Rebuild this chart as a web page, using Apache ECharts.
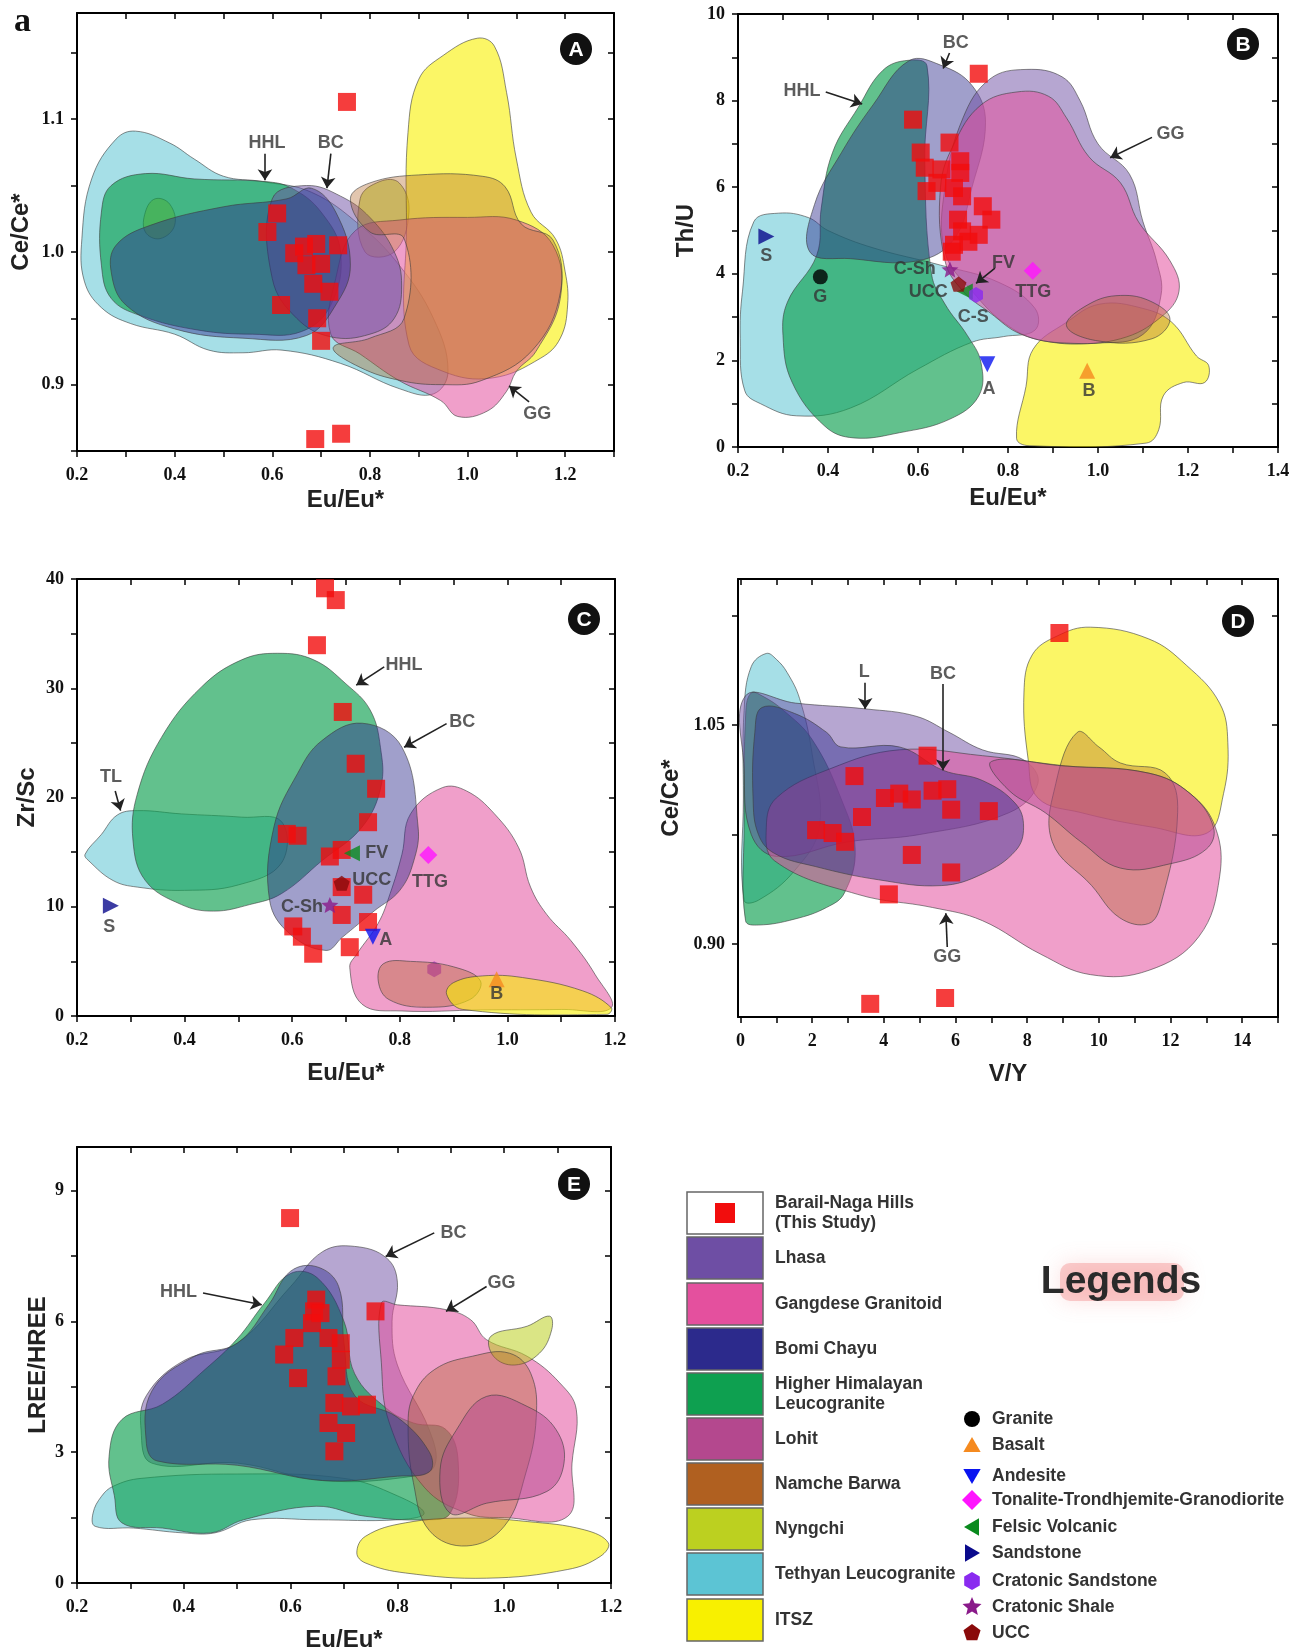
<!DOCTYPE html>
<html><head><meta charset="utf-8">
<script src="https://cdn.jsdelivr.net/npm/echarts@6/dist/echarts.min.js"></script>
<style>html,body{margin:0;padding:0;background:#fff}#c{width:1298px;height:1652px}</style>
</head><body><div id="c"></div>
<script>
// ================= DATA =================
const fieldKeys   = ['LH','GG','BC','HHL','LO','NB','NY','TL','IT'];
const fieldNames  = ['Lhasa','Gangdese Granitoid','Bomi Chayu','Higher Himalayan\nLeucogranite','Lohit','Namche Barwa','Nyngchi','Tethyan Leucogranite','ITSZ'];
const fieldColors = ['#6e4ea4','#e4509e','#2c2a8c','#0ea050','#b4488e','#b06020','#bcd020','#5cc4d4','#f8f000'];
const fieldAlpha  = [0.5,0.55,0.45,0.65,0.5,0.36,0.55,0.55,0.6];

const refKeys   = ['G','B','A','TTG','FV','S','CS','CSh','UCC'];
const refNames  = ['Granite','Basalt','Andesite','Tonalite-Trondhjemite-Granodiorite','Felsic Volcanic','Sandstone','Cratonic Sandstone','Cratonic Shale','UCC'];
const refColors = ['#000000','#f58a1f','#0a14f0','#ff14ff','#0a8a1e','#0a0a8c','#8a2af0','#8a1a8a','#8a0a0a'];

// ---- Panel A: Eu/Eu* vs Ce/Ce*
const A_pts = [[0.753,1.113],[0.61,1.029],[0.59,1.015],[0.645,0.999],[0.665,1.004],[0.69,1.006],[0.735,1.005],[0.67,0.99],[0.7,0.991],[0.684,0.976],[0.717,0.97],[0.618,0.96],[0.692,0.95],[0.7,0.933],[0.688,0.859],[0.741,0.863]];
const A_TL = [[0.21,1.01],[0.23,1.055],[0.28,1.085],[0.32,1.091],[0.39,1.082],[0.44,1.07],[0.5,1.057],[0.58,1.053],[0.68,1.045],[0.78,1.02],[0.86,0.99],[0.93,0.95],[0.96,0.91],[0.93,0.893],[0.86,0.897],[0.74,0.916],[0.62,0.926],[0.54,0.924],[0.47,0.926],[0.4,0.938],[0.31,0.946],[0.25,0.958],[0.215,0.978]];
const A_HHL = [[0.25,1.03],[0.27,1.05],[0.34,1.059],[0.44,1.055],[0.585,1.053],[0.64,1.048],[0.7,1.03],[0.74,1.0],[0.72,0.96],[0.66,0.94],[0.56,0.938],[0.45,0.941],[0.33,0.952],[0.27,0.965],[0.25,0.99]];
const A_NY1 = [[0.34,1.03],[0.36,1.04],[0.39,1.036],[0.4,1.02],[0.37,1.01],[0.34,1.015]];
const A_NY2 = [[0.78,1.04],[0.82,1.053],[0.86,1.052],[0.88,1.03],[0.85,1.0],[0.79,1.0]];
const A_IT = [[0.875,1.02],[0.878,1.09],[0.9,1.13],[0.95,1.148],[1.02,1.161],[1.055,1.155],[1.08,1.12],[1.1,1.07],[1.13,1.03],[1.18,1.01],[1.2,0.985],[1.205,0.96],[1.19,0.935],[1.15,0.92],[1.05,0.905],[0.95,0.91],[0.88,0.93]];
const A_GG = [[0.77,1.016],[0.86,1.024],[1.0,1.026],[1.1,1.024],[1.175,1.005],[1.19,0.965],[1.14,0.925],[1.1,0.91],[1.08,0.895],[1.04,0.88],[0.98,0.876],[0.945,0.888],[0.86,0.903],[0.78,0.923],[0.72,0.938],[0.73,0.98]];
const A_LH = [[0.6,1.04],[0.67,1.05],[0.74,1.042],[0.8,1.026],[0.85,1.0],[0.865,0.975],[0.85,0.95],[0.8,0.938],[0.72,0.936],[0.65,0.95],[0.6,0.98]];
const A_BC = [[0.28,1.005],[0.35,1.02],[0.5,1.034],[0.63,1.04],[0.68,1.048],[0.73,1.03],[0.76,0.99],[0.73,0.96],[0.67,0.937],[0.54,0.935],[0.4,0.942],[0.3,0.96],[0.27,0.985]];
const A_NB = [[0.76,1.04],[0.8,1.052],[0.9,1.058],[1.03,1.057],[1.077,1.049],[1.11,1.021],[1.175,1.009],[1.19,0.969],[1.133,0.926],[1.028,0.903],[0.946,0.9],[0.864,0.903],[0.78,0.913],[0.725,0.928],[0.8,0.935],[0.87,0.95],[0.87,1.01],[0.8,1.015]];
const A_notes = [['HHL',0.589,1.082],['BC',0.72,1.082],['GG',1.143,0.878]];
const A_arrows = [[0.585,1.074,0.585,1.054],[0.72,1.074,0.712,1.048],[1.126,0.887,1.085,0.899]];
const A_xTicks = range(0.2,1.3,0.1), A_xLabels = range(0.2,1.2,0.2);
const A_yTicks = range(0.85,1.15,0.05), A_yLabels = [0.9,1.0,1.1];

// ---- Panel B: Eu/Eu* vs Th/U
const B_pts = [[0.735,8.62],[0.589,7.56],[0.67,7.03],[0.606,6.8],[0.694,6.6],[0.615,6.45],[0.652,6.41],[0.694,6.33],[0.643,6.1],[0.619,5.91],[0.68,5.98],[0.698,5.79],[0.744,5.56],[0.689,5.25],[0.763,5.25],[0.698,4.98],[0.735,4.9],[0.68,4.67],[0.712,4.74],[0.675,4.51]];
const B_TL = [[0.215,1.3],[0.205,2.5],[0.21,3.6],[0.235,5.2],[0.29,5.4],[0.356,5.3],[0.4,5.0],[0.5,4.6],[0.65,4.2],[0.78,3.8],[0.86,3.2],[0.86,2.7],[0.79,2.55],[0.72,2.42],[0.6,1.8],[0.45,0.9],[0.33,0.72],[0.25,1.0]];
const B_HHL = [[0.578,8.93],[0.522,8.7],[0.467,7.84],[0.41,6.8],[0.385,5.52],[0.375,4.43],[0.31,3.35],[0.3,2.57],[0.32,1.5],[0.393,0.48],[0.457,0.21],[0.559,0.33],[0.67,0.64],[0.735,1.18],[0.74,1.95],[0.71,2.57],[0.66,3.3],[0.63,4.0],[0.615,6.6],[0.62,8.8]];
const B_IT = [[0.819,0.2],[0.84,1.4],[0.856,2.26],[0.93,2.88],[1.004,3.3],[1.1,3.2],[1.164,2.88],[1.219,2.1],[1.246,1.88],[1.237,1.49],[1.19,1.49],[1.145,1.18],[1.135,0.4],[1.107,0.09],[0.847,0.03]];
const B_BC = [[0.36,4.5],[0.37,5.6],[0.43,6.8],[0.5,7.9],[0.58,8.92],[0.65,8.82],[0.72,8.35],[0.75,7.5],[0.72,6.0],[0.68,4.8],[0.6,4.3],[0.45,4.35]];
const B_LH = [[0.66,6.0],[0.7,7.6],[0.76,8.5],[0.84,8.72],[0.92,8.55],[0.96,8.0],[1.0,7.0],[1.07,6.3],[1.1,5.2],[1.13,4.3],[1.14,3.5],[1.1,2.6],[1.0,2.4],[0.88,2.45],[0.8,2.8],[0.72,3.6],[0.66,4.5]];
const B_GG = [[0.65,6.0],[0.68,7.0],[0.74,7.9],[0.82,8.2],[0.89,8.1],[0.93,7.6],[0.98,6.7],[1.05,6.1],[1.09,5.2],[1.16,4.3],[1.18,3.6],[1.14,3.0],[1.05,2.5],[0.93,2.4],[0.83,2.6],[0.76,3.1],[0.7,3.6],[0.66,4.3]];
const B_NB = [[0.93,2.8],[0.98,3.3],[1.05,3.5],[1.12,3.35],[1.16,2.95],[1.12,2.5],[1.0,2.45]];
const B_ref = {G:[0.383,3.93],S:[0.263,4.86],A:[0.754,1.91],B:[0.976,1.76],TTG:[0.855,4.07],FV:[0.704,3.59],CS:[0.729,3.51],CSh:[0.671,4.1],UCC:[0.69,3.76]};
const B_notes = [['BC',0.684,9.32],['HHL',0.342,8.23],['GG',1.161,7.22],['S',0.263,4.4],['G',0.383,3.47],['A',0.758,1.33],['B',0.98,1.29],['TTG',0.856,3.59],['C-Sh',0.593,4.1],['UCC',0.623,3.59],['C-S',0.723,3.0],['FV',0.79,4.24]];
const B_arrows = [[0.67,9.1,0.656,8.74],[0.395,8.2,0.476,7.92],[1.12,7.15,1.027,6.68],[0.771,4.13,0.729,3.78]];
const B_xTicks = range(0.2,1.4,0.1), B_xLabels = range(0.2,1.4,0.2);
const B_yTicks = range(0,10,1), B_yLabels = range(0,10,2);

// ---- Panel C: Eu/Eu* vs Zr/Sc
const C_pts = [[0.661,39.15],[0.681,38.07],[0.646,33.94],[0.694,27.83],[0.718,23.09],[0.756,20.8],[0.741,17.74],[0.59,16.67],[0.61,16.5],[0.692,15.2],[0.67,14.6],[0.692,11.8],[0.732,11.1],[0.692,9.25],[0.741,8.6],[0.602,8.2],[0.618,7.26],[0.639,5.7],[0.707,6.3]];
const C_TL = [[0.215,14.8],[0.245,16.6],[0.275,18.4],[0.312,18.8],[0.394,18.5],[0.506,18.2],[0.58,17.8],[0.58,14],[0.5,12],[0.4,11.5],[0.312,11.8],[0.267,12.4],[0.222,14.2]];
const C_HHL = [[0.573,33.2],[0.506,32.6],[0.431,30.1],[0.357,25.5],[0.312,20.3],[0.304,16.1],[0.327,12.4],[0.394,10.2],[0.454,9.6],[0.521,10.2],[0.58,11.2],[0.655,14.2],[0.73,17.3],[0.765,21],[0.764,24.6],[0.745,28],[0.7,30.4],[0.64,32.6]];
const C_GG = [[0.879,20.9],[0.924,20.6],[0.976,18.5],[1.021,15.4],[1.043,11.8],[1.073,9.3],[1.118,6.9],[1.163,3.8],[1.193,0.76],[1.1,0.6],[0.95,0.55],[0.804,0.46],[0.73,1.07],[0.707,4.43],[0.72,5.66],[0.76,8.5],[0.782,11.2],[0.804,14.8],[0.82,18.5]];
const C_NB = [[0.77,4.8],[0.82,5.0],[0.9,4.5],[0.95,3.2],[0.93,1.5],[0.85,0.8],[0.78,1.5],[0.76,3.2]];
const C_IT = [[0.887,2.0],[0.9,3.06],[0.954,3.67],[1.028,3.52],[1.14,2.3],[1.193,0.76],[1.185,0.15],[0.917,0.6]];
const C_BC = [[0.73,26.8],[0.804,24.6],[0.834,17.3],[0.826,14.2],[0.8,11.5],[0.752,9.6],[0.693,7.2],[0.663,6.0],[0.596,7.5],[0.558,10.6],[0.566,17.3],[0.61,22.2],[0.655,25.2]];
const C_ref = {S:[0.263,10.1],A:[0.75,7.26],B:[0.98,3.36],TTG:[0.853,14.74],FV:[0.711,14.9],CS:[0.864,4.28],CSh:[0.67,10.16],UCC:[0.692,12.15]};
const C_notes = [['HHL',0.808,32.1],['BC',0.916,26.9],['TL',0.263,21.9],['S',0.26,8.1],['FV',0.757,14.9],['UCC',0.748,12.45],['C-Sh',0.618,10.0],['TTG',0.856,12.3],['A',0.774,6.96],['B',0.98,1.99]];
const C_arrows = [[0.771,31.96,0.719,30.28],[0.887,26.76,0.808,24.6],[0.271,20.6,0.281,18.8]];
const C_xTicks = range(0.2,1.2,0.1), C_xLabels = range(0.2,1.2,0.2);
const C_yTicks = range(0,40,5), C_yLabels = range(0,40,10);

// ---- Panel D: V/Y vs Ce/Ce*
const D_pts = [[8.9,1.113],[5.22,1.029],[3.18,1.015],[4.03,1.0],[4.43,1.003],[4.78,0.999],[5.36,1.005],[5.77,1.006],[5.88,0.992],[6.93,0.991],[3.39,0.987],[2.11,0.978],[2.57,0.976],[2.92,0.97],[4.78,0.961],[5.88,0.949],[4.14,0.934],[3.62,0.859],[5.71,0.863]];
const D_TL = [[0.1,0.93],[0.08,1.0],[0.1,1.06],[0.3,1.09],[0.72,1.099],[1.0,1.095],[1.3,1.086],[1.65,1.068],[2.0,1.03],[2.2,0.98],[1.5,0.95],[0.5,0.93]];
const D_HHL = [[0.14,0.916],[0.1,0.98],[0.15,1.06],[0.3,1.072],[0.6,1.07],[1.2,1.06],[2.0,1.04],[2.8,1.0],[3.2,0.965],[2.9,0.935],[2.4,0.925],[1.5,0.917],[0.5,0.913]];
const D_LH = [[0.14,1.07],[1.53,1.065],[3.5,1.061],[4.9,1.056],[5.82,1.045],[6.75,1.033],[7.91,1.026],[8.3,1.01],[7.5,0.99],[5.0,0.975],[3.0,0.97],[1.0,0.96],[0.3,0.975],[0.1,1.02]];
const D_IT = [[8.03,1.026],[7.91,1.072],[8.14,1.098],[8.84,1.111],[9.77,1.117],[11.39,1.109],[12.44,1.091],[13.37,1.065],[13.6,1.038],[13.48,1.003],[13.02,0.976],[11.5,0.98],[9.5,0.99],[8.3,1.0]];
const D_GG = [[0.72,0.98],[0.95,0.957],[3.27,0.934],[5.36,0.925],[6.75,0.916],[8.38,0.893],[9.77,0.879],[11.4,0.882],[12.79,0.905],[13.37,0.946],[13.25,0.98],[12.55,1.003],[11.4,1.017],[9.07,1.022],[6.75,1.029],[4.43,1.033],[2.5,1.02],[1.0,1.0]];
const D_NB = [[8.7,0.97],[8.8,1.01],[9.4,1.045],[10.0,1.035],[10.6,1.024],[11.86,1.017],[12.2,0.99],[11.74,0.928],[11.39,0.914],[10.58,0.918],[9.8,0.94]];
const D_LO = [[7.0,1.025],[9.0,1.022],[11.4,1.017],[12.55,1.003],[13.2,0.98],[13.0,0.965],[12.0,0.955],[10.6,0.952],[9.5,0.97],[8.5,0.99],[7.5,1.005]];
const D_BC = [[0.35,1.0],[0.4,1.045],[0.6,1.062],[1.5,1.058],[2.4,1.045],[2.8,1.035],[4.43,1.035],[5.65,1.019],[6.75,1.012],[7.68,0.996],[7.9,0.98],[7.68,0.964],[6.75,0.948],[5.6,0.94],[3.85,0.944],[2.1,0.953],[0.95,0.962],[0.5,0.975]];
const D_notes = [['L',3.45,1.086],['BC',5.65,1.085],['GG',5.77,0.891]];
const D_arrows = [[3.48,1.079,3.48,1.061],[5.65,1.078,5.65,1.019],[5.77,0.898,5.73,0.921]];
const D_xTicks = range(0,15,1), D_xLabels = range(0,14,2);
const D_yTicks = [0.9,0.975,1.05,1.125], D_yLabels = [0.9,1.05];

// ---- Panel E: Eu/Eu* vs LREE/HREE
const E_pts = [[0.599,8.37],[0.648,6.5],[0.644,6.23],[0.64,5.96],[0.759,6.23],[0.607,5.62],[0.588,5.24],[0.614,4.7],[0.671,5.62],[0.694,5.5],[0.694,5.12],[0.686,4.74],[0.682,4.13],[0.713,4.05],[0.743,4.09],[0.671,3.67],[0.704,3.44],[0.682,3.02],[0.656,6.19]];
const E_TL = [[0.234,1.3],[0.23,1.6],[0.246,1.99],[0.268,2.22],[0.32,2.4],[0.5,2.5],[0.7,2.4],[0.8,2.0],[0.85,1.6],[0.8,1.45],[0.65,1.45],[0.527,1.45],[0.458,1.15],[0.398,1.15],[0.306,1.26]];
const E_HHL = [[0.26,2.9],[0.284,3.75],[0.36,4.1],[0.44,4.9],[0.5,5.6],[0.55,6.4],[0.6,7.1],[0.65,7.0],[0.7,6.0],[0.72,4.8],[0.78,4.0],[0.83,3.67],[0.891,3.52],[0.914,2.75],[0.899,1.6],[0.853,1.45],[0.74,1.53],[0.648,1.76],[0.512,1.45],[0.45,1.15],[0.36,1.26],[0.284,1.38],[0.27,2.0]];
const E_IT = [[0.724,0.69],[0.74,1.07],[0.815,1.38],[0.93,1.49],[1.043,1.41],[1.15,1.22],[1.195,0.92],[1.18,0.61],[1.119,0.31],[0.967,0.11],[0.815,0.23],[0.74,0.46]];
const E_GG = [[0.77,6.42],[0.8,6.38],[0.891,6.27],[0.937,6.04],[0.967,5.58],[1.043,5.2],[1.104,4.59],[1.135,3.98],[1.127,2.75],[1.119,1.53],[1.0,1.5],[0.93,1.6],[0.85,2.2],[0.785,3.67],[0.77,5.05]];
const E_NY = [[0.975,5.66],[1.043,5.89],[1.085,6.12],[1.089,5.81],[1.066,5.27],[1.02,5.0],[0.98,5.2]];
const E_NB = [[0.82,3.6],[0.83,4.3],[0.87,4.9],[0.94,5.2],[1.01,5.27],[1.05,4.8],[1.06,3.8],[1.04,2.5],[1.0,1.3],[0.93,0.85],[0.86,1.2],[0.83,2.3]];
const E_LO = [[0.91,3.5],[0.967,4.28],[1.043,4.05],[1.097,3.52],[1.112,2.75],[1.08,2.1],[0.967,1.83],[0.899,1.6],[0.88,2.6]];
const E_LH = [[0.33,4.3],[0.4,5.1],[0.5,5.5],[0.6,6.8],[0.66,7.6],[0.72,7.72],[0.78,7.45],[0.8,6.9],[0.79,6.0],[0.8,5.0],[0.86,3.5],[0.87,2.7],[0.83,2.45],[0.66,2.35],[0.5,2.75],[0.34,2.75],[0.32,3.5]];
const E_BC = [[0.33,3.2],[0.34,4.4],[0.42,5.2],[0.5,5.5],[0.56,6.4],[0.6,7.15],[0.65,7.25],[0.69,6.8],[0.7,5.5],[0.72,4.3],[0.8,3.8],[0.86,3.0],[0.86,2.55],[0.8,2.45],[0.66,2.35],[0.5,2.7],[0.35,2.8]];
const E_notes = [['HHL',0.39,6.67],['BC',0.905,8.03],['GG',0.995,6.88]];
const E_arrows = [[0.436,6.65,0.546,6.38],[0.869,8.03,0.778,7.49],[0.967,6.8,0.891,6.23]];
const E_xTicks = range(0.2,1.2,0.1), E_xLabels = range(0.2,1.2,0.2);
const E_yTicks = range(0,9,1.5), E_yLabels = [0,3,6,9];

// ================= HELPERS =================
function range(a,b,s){const r=[];for(let i=0;a+i*s<=b+1e-9;i++) r.push(Math.round((a+i*s)*1000)/1000);return r;}
function rgba(hex,a){const n=parseInt(hex.slice(1),16);return 'rgba('+(n>>16)+','+((n>>8)&255)+','+(n&255)+','+a+')';}
function regPts(cx,cy,r,n,start,inner){const p=[];const m=inner?n*2:n;for(let i=0;i<m;i++){const ang=(start+i*360/m)*Math.PI/180;const rr=(inner&&i%2)?r*inner:r;p.push([cx+rr*Math.cos(ang),cy+rr*Math.sin(ang)]);}return p;}
function pathOf(pts){return 'path://M'+pts.map(p=>p[0].toFixed(2)+' '+p[1].toFixed(2)).join(' L')+' Z';}
const refSym = {
  G:{symbol:'circle',rot:0,size:15},
  B:{symbol:'triangle',rot:0,size:16},
  A:{symbol:'triangle',rot:180,size:16},
  TTG:{symbol:'diamond',rot:0,size:18},
  FV:{symbol:'triangle',rot:90,size:16},
  S:{symbol:'triangle',rot:-90,size:16},
  CS:{symbol:pathOf(regPts(10,10,10,6,-90)),rot:0,size:16},
  CSh:{symbol:pathOf(regPts(10,10,10,5,-90,0.45)),rot:0,size:17},
  UCC:{symbol:pathOf(regPts(10,10,10,5,-90)),rot:0,size:16}
};
const SANS='Liberation Sans, Arial, sans-serif', SERIF='Liberation Serif, Times New Roman, serif';

const grids = [
  {left:77, top:13, width:537, height:438},
  {left:738, top:14, width:540, height:433},
  {left:77, top:579, width:538, height:437},
  {left:738, top:579, width:540, height:438},
  {left:77, top:1147, width:534, height:436}
];
const axCfg = [
  {xmin:0.2,xmax:1.3,ymin:0.85,ymax:1.18,xt:A_xTicks,xl:A_xLabels,yt:A_yTicks,yl:A_yLabels,xd:1,yd:1,xn:'Eu/Eu*',yn:'Ce/Ce*',xg:37,yg:44},
  {xmin:0.2,xmax:1.4,ymin:0,ymax:10,xt:B_xTicks,xl:B_xLabels,yt:B_yTicks,yl:B_yLabels,xd:1,yd:0,xn:'Eu/Eu*',yn:'Th/U',xg:39,yg:40},
  {xmin:0.2,xmax:1.2,ymin:0,ymax:40,xt:C_xTicks,xl:C_xLabels,yt:C_yTicks,yl:C_yLabels,xd:1,yd:0,xn:'Eu/Eu*',yn:'Zr/Sc',xg:45,yg:38},
  {xmin:-0.07,xmax:15,ymin:0.85,ymax:1.15,xt:D_xTicks,xl:D_xLabels,yt:D_yTicks,yl:D_yLabels,xd:0,yd:2,xn:'V/Y',yn:'Ce/Ce*',xg:45,yg:55},
  {xmin:0.2,xmax:1.2,ymin:0,ymax:10,xt:E_xTicks,xl:E_xLabels,yt:E_yTicks,yl:E_yLabels,xd:1,yd:0,xn:'Eu/Eu*',yn:'LREE/HREE',xg:45,yg:27}
];
const panels = [
  {polys:[['TL',A_TL],['NY',A_NY1],['HHL',A_HHL],['NY',A_NY2],['IT',A_IT],['GG',A_GG],['LH',A_LH],['BC',A_BC],['NB',A_NB]],pts:A_pts,ref:null,notes:A_notes,arrows:A_arrows},
  {polys:[['TL',B_TL],['HHL',B_HHL],['IT',B_IT],['BC',B_BC],['LH',B_LH],['GG',B_GG],['NB',B_NB]],pts:B_pts,ref:B_ref,notes:B_notes,arrows:B_arrows},
  {polys:[['TL',C_TL],['HHL',C_HHL],['GG',C_GG],['NB',C_NB],['IT',C_IT],['BC',C_BC]],pts:C_pts,ref:C_ref,notes:C_notes,arrows:C_arrows},
  {polys:[['TL',D_TL],['HHL',D_HHL],['LH',D_LH],['IT',D_IT],['GG',D_GG],['NB',D_NB],['LO',D_LO],['BC',D_BC]],pts:D_pts,ref:null,notes:D_notes,arrows:D_arrows},
  {polys:[['TL',E_TL],['LH',E_LH],['HHL',E_HHL],['IT',E_IT],['GG',E_GG],['NY',E_NY],['NB',E_NB],['LO',E_LO],['BC',E_BC]],pts:E_pts,ref:null,notes:E_notes,arrows:E_arrows}
];

// ================= OPTION =================
const xAxis=[], yAxis=[], series=[];
const lineSt = {color:'#000', width:2};
axCfg.forEach((c,gi)=>{
  const lab = {fontFamily:SERIF, fontWeight:'bold', fontSize:18, color:'#111'};
  xAxis.push({type:'value',gridIndex:gi,min:c.xmin,max:c.xmax,position:'bottom',
    axisLine:{onZero:false,lineStyle:lineSt},
    axisTick:{customValues:c.xt,length:6,inside:false,lineStyle:{color:'#000',width:1.5}},
    axisLabel:Object.assign({customValues:c.xl,margin:15,formatter:v=>v.toFixed(c.xd),hideOverlap:false},lab),
    splitLine:{show:false},name:c.xn,nameLocation:'middle',nameGap:c.xg,
    nameTextStyle:{fontFamily:SANS,fontWeight:'bold',fontSize:24,color:'#222'}});
  xAxis.push({type:'value',gridIndex:gi,min:c.xmin,max:c.xmax,position:'top',
    axisLine:{onZero:false,lineStyle:lineSt},
    axisTick:{customValues:c.xt,length:6,inside:true,lineStyle:{color:'#000',width:1.5}},
    axisLabel:{show:false},splitLine:{show:false}});
  yAxis.push({type:'value',gridIndex:gi,min:c.ymin,max:c.ymax,position:'left',
    axisLine:{onZero:false,lineStyle:lineSt},
    axisTick:{customValues:c.yt,length:6,inside:false,lineStyle:{color:'#000',width:1.5}},
    axisLabel:Object.assign({customValues:c.yl,margin:13,formatter:v=>v.toFixed(c.yd),hideOverlap:false},lab),
    splitLine:{show:false},name:c.yn,nameLocation:'middle',nameGap:c.yg,nameRotate:90,
    nameTextStyle:{fontFamily:SANS,fontWeight:'bold',fontSize:24,color:'#222'}});
  yAxis.push({type:'value',gridIndex:gi,min:c.ymin,max:c.ymax,position:'right',
    axisLine:{onZero:false,lineStyle:lineSt},
    axisTick:{customValues:c.yt,length:6,inside:true,lineStyle:{color:'#000',width:1.5}},
    axisLabel:{show:false},splitLine:{show:false}});
});

panels.forEach((p,gi)=>{
  const xi=gi*2, yi=gi*2;
  p.polys.forEach(([key,pts])=>{
    const k=fieldKeys.indexOf(key), col=fieldColors[k], a=fieldAlpha[k];
    series.push({type:'custom',xAxisIndex:xi,yAxisIndex:yi,data:pts,encode:{x:0,y:1},clip:true,silent:true,z:2,
      renderItem:(params,api)=>{
        if(params.dataIndex!==0) return null;
        const pp = pts.map(d=>api.coord(d));
        return {type:'polygon',shape:{points:pp,smooth:0.4},
          style:{fill:rgba(col,a),stroke:'rgba(60,60,60,0.75)',lineWidth:0.8}};
      }});
  });
  series.push({type:'scatter',xAxisIndex:xi,yAxisIndex:yi,data:p.pts,symbol:'rect',symbolSize:18,
    itemStyle:{color:'#f20d0d'},z:5,silent:true});
  if(p.ref){
    Object.keys(p.ref).forEach(key=>{
      const k=refKeys.indexOf(key), s=refSym[key];
      series.push({type:'scatter',xAxisIndex:xi,yAxisIndex:yi,data:[p.ref[key]],symbol:s.symbol,symbolRotate:s.rot,
        symbolSize:s.size,symbolKeepAspect:true,itemStyle:{color:refColors[k]},
        z:(gi===2&&key==='CS')?1:6,silent:true});
    });
  }
  series.push({type:'scatter',xAxisIndex:xi,yAxisIndex:yi,z:7,silent:true,symbolSize:1,
    itemStyle:{color:'rgba(0,0,0,0)'},
    data:p.notes.map(n=>({value:[n[1],n[2]],name:n[0]})),
    label:{show:true,position:'inside',formatter:d=>d.name,fontFamily:SANS,fontWeight:'bold',fontSize:18,color:'#333'},
    markLine:{silent:true,symbol:['none','arrow'],symbolSize:11,animation:false,
      lineStyle:{color:'#222',width:1.6,type:'solid'},label:{show:false},
      data:p.arrows.map(a=>[{coord:[a[0],a[1]]},{coord:[a[2],a[3]]}])}
  });
});

// ================= GRAPHICS (panel tags + legend) =================
const g = [];
g.push({type:'text',x:14,y:22,style:{text:'a',font:'bold 34px '+SERIF,fill:'#111',verticalAlign:'middle'}});
const tags=[['A',576,49],['B',1243,44],['C',584,619],['D',1238,621],['E',574,1184]];
tags.forEach(t=>{
  g.push({type:'circle',shape:{cx:t[1],cy:t[2],r:16},style:{fill:'#111'}});
  g.push({type:'text',x:t[1],y:t[2]+1,style:{text:t[0],font:'bold 21px '+SANS,fill:'#fff',align:'center',verticalAlign:'middle'}});
});
const LFONT='bold 17.5px '+SANS;
const rowTops=[1192,1237,1283,1328,1373,1418,1463,1508,1553,1599];
g.push({type:'rect',shape:{x:687,y:rowTops[0],width:76,height:42},style:{fill:'#fff',stroke:'#666',lineWidth:1.5}});
g.push({type:'rect',shape:{x:715,y:rowTops[0]+11,width:20,height:20},style:{fill:'#f20d0d'}});
g.push({type:'text',x:775,y:rowTops[0]+21,style:{text:'Barail-Naga Hills\n(This Study)',font:LFONT,fill:'#333',verticalAlign:'middle',lineHeight:20}});
fieldNames.forEach((nm,i)=>{
  const y=rowTops[i+1];
  g.push({type:'rect',shape:{x:687,y:y,width:76,height:42},style:{fill:fieldColors[i],stroke:'#666',lineWidth:1.5}});
  g.push({type:'text',x:775,y:y+21,style:{text:nm,font:LFONT,fill:'#333',verticalAlign:'middle',lineHeight:20}});
});
const symY=[1419,1445,1476,1500,1527,1553,1581,1607,1633];
const sx=972;
refKeys.forEach((key,i)=>{
  const y=symY[i], col=refColors[i];
  let el;
  if(key==='G') el={type:'circle',shape:{cx:sx,cy:y,r:8}};
  else if(key==='B') el={type:'polygon',shape:{points:regPts(sx,y+2,10,3,-90)}};
  else if(key==='A') el={type:'polygon',shape:{points:regPts(sx,y-2,10,3,90)}};
  else if(key==='FV') el={type:'polygon',shape:{points:regPts(sx+2,y,10,3,180)}};
  else if(key==='S') el={type:'polygon',shape:{points:regPts(sx-2,y,10,3,0)}};
  else if(key==='TTG') el={type:'polygon',shape:{points:regPts(sx,y,10,4,-90)}};
  else if(key==='CS') el={type:'polygon',shape:{points:regPts(sx,y,9,6,-90)}};
  else if(key==='CSh') el={type:'polygon',shape:{points:regPts(sx,y,10,5,-90,0.45)}};
  else el={type:'polygon',shape:{points:regPts(sx,y,9,5,-90)}};
  el.style={fill:col};
  g.push(el);
  g.push({type:'text',x:992,y:y,style:{text:refNames[i],font:LFONT,fill:'#333',verticalAlign:'middle'}});
});
g.push({type:'rect',shape:{x:1060,y:1263,width:124,height:38,r:10},style:{fill:'rgba(240,120,120,0.35)',shadowColor:'rgba(240,110,110,0.6)',shadowBlur:22}});
g.push({type:'text',x:1121,y:1282,style:{text:'Legends',font:'bold 39px '+SANS,fill:'#2a2a2a',align:'center',verticalAlign:'middle'}});

const option = {
  animation:false,
  backgroundColor:'#fff',
  grid:grids.map(gr=>Object.assign({containLabel:false,outerBoundsMode:'none'},gr)),
  xAxis:xAxis, yAxis:yAxis, series:series, graphic:g
};
const chart = echarts.init(document.getElementById('c'),null,{renderer:'canvas'});
chart.setOption(option);
</script></body></html>
